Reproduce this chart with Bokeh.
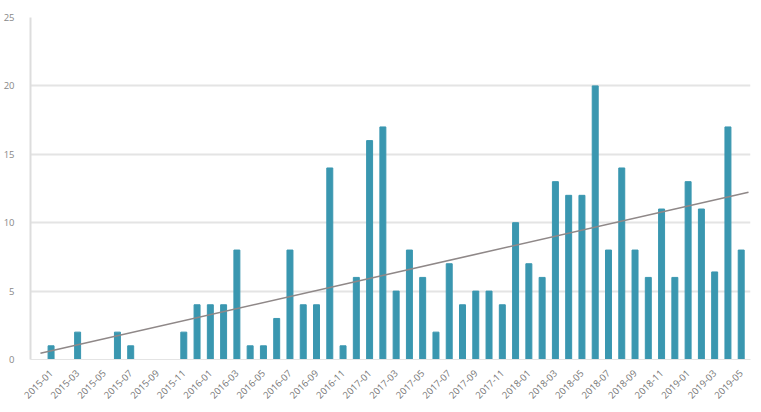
import numpy as np
from math import pi
from bokeh.models import ColumnDataSource, Range1d, FixedTicker
from bokeh.plotting import figure
from bokeh.embed import file_html
from bokeh.resources import INLINE

# monthly counts, 2015-01 .. 2019-05
months = ["%d-%02d" % (y, m) for y in range(2015, 2020) for m in range(1, 13)][:53]
counts = [1, 0, 2, 0, 0, 2, 1, 0, 0, 0,
          2, 4, 4, 4, 8, 1, 1, 3, 8, 4,
          4, 14, 1, 6, 16, 17, 5, 8, 6, 2,
          7, 4, 5, 5, 4, 10, 7, 6, 13, 12,
          12, 20, 8, 14, 8, 6, 11, 6, 13, 11,
          6.4, 17, 8]
y_ticks = [0, 5, 10, 15, 20, 25]

idx = list(range(len(months)))
src = ColumnDataSource(dict(x=idx, top=counts, month=months))

p = figure(width=753, height=404, output_backend="svg", toolbar_location=None,
           x_range=Range1d(-1.55, 52.7), y_range=Range1d(0, 25),
           min_border_left=30, min_border_right=3, min_border_top=17,
           min_border_bottom=42)
p.outline_line_color = None
p.background_fill_color = "white"
p.border_fill_color = "white"

p.vbar(x="x", top="top", width=0.45, source=src, color="#3a97b0")

# linear trend over the months
slope, icpt = np.polyfit(idx, counts, 1)
tx = np.array([p.x_range.start + 0.75, p.x_range.end - 0.15])
p.line(tx, slope * tx + icpt, line_color="#8f8888", line_width=1.6)

p.xgrid.grid_line_color = None
p.ygrid.grid_line_color = "#e4e4e4"
p.ygrid.grid_line_width = 2
p.ygrid.ticker = FixedTicker(ticks=y_ticks)

p.yaxis.ticker = FixedTicker(ticks=y_ticks)
p.yaxis.axis_line_color = "#dddddd"
p.yaxis.axis_line_width = 2
p.yaxis.major_tick_line_color = None
p.yaxis.minor_tick_line_color = None
p.yaxis.major_label_standoff = 10
p.yaxis.major_label_text_font = "Open Sans"
p.yaxis.major_label_text_font_size = "9.5px"
p.yaxis.major_label_text_color = "#888888"

p.xaxis.ticker = FixedTicker(ticks=idx[::2])
p.xaxis.major_label_overrides = {i: months[i] for i in idx[::2]}
p.xaxis.major_label_orientation = pi / 4
p.xaxis.axis_line_color = "#e4e4e4"
p.xaxis.major_tick_line_color = None
p.xaxis.minor_tick_line_color = None
p.xaxis.major_label_standoff = 6
p.xaxis.major_label_text_font = "Open Sans"
p.xaxis.major_label_text_font_size = "9.5px"
p.xaxis.major_label_text_color = "#777777"

open("out.html", "w").write(file_html(p, INLINE))
